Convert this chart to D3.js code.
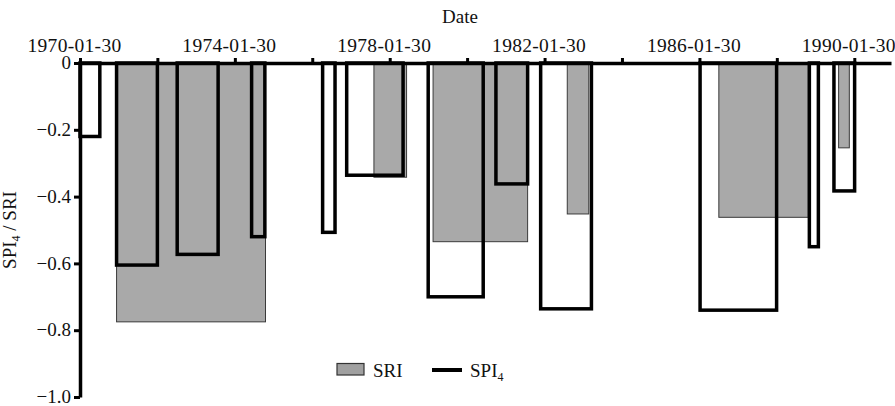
<!DOCTYPE html>
<html>
<head>
<meta charset="utf-8">
<title>SPI4 / SRI drought events</title>
<script src="https://d3js.org/d3.v7.min.js"></script>
<style>
  body { margin: 0; background: #fff; }
  text { font-family: "Liberation Serif", "Times New Roman", serif; fill: #111; }
</style>
</head>
<body>
<div id="chart"></div>
<script>

// SRI events (grey bars)
var sriStart = ["1971-01-10", "1977-09-03", "1979-03-15", "1982-09-01", "1986-08-01", "1989-09-04"];
var sriEnd   = ["1974-11-15", "1978-07-08", "1981-08-23", "1983-03-23", "1988-11-22", "1989-12-14"];
var sriValue = [-0.775, -0.342, -0.535, -0.452, -0.462, -0.254];

// SPI4 events (black outlined bars)
var spiStart = ["1970-01-30", "1971-01-10", "1972-08-04", "1974-07-07", "1976-05-07", "1976-12-20",
                "1979-01-28", "1980-10-28", "1981-12-24", "1986-02-05", "1988-12-02", "1989-07-22"];
var spiEnd   = ["1970-08-05", "1972-01-30", "1973-08-25", "1974-11-09", "1976-09-01", "1978-06-05",
                "1980-06-30", "1981-08-23", "1983-04-17", "1988-01-28", "1989-02-25", "1990-02-02"];
var spiValue = [-0.22, -0.605, -0.573, -0.52, -0.507, -0.336, -0.70, -0.362, -0.736, -0.74, -0.55, -0.383];

// axis ticks
var xTicks  = ["1970-01-30", "1972-01-30", "1974-01-30", "1976-01-30", "1978-01-30", "1980-01-30",
               "1982-01-30", "1984-01-30", "1986-01-30", "1988-01-30", "1990-01-30"];
var xLabels = ["1970-01-30", "", "1974-01-30", "", "1978-01-30", "", "1982-01-30", "", "1986-01-30", "", "1990-01-30"];
var yTicks  = [0, -0.2, -0.4, -0.6, -0.8, -1.0];
var yLabels = ["0", "\u22120.2", "\u22120.4", "\u22120.6", "\u22120.8", "\u22121.0"];

var W = 895, H = 406;
var parse = d3.timeParse("%Y-%m-%d");

var svg = d3.select("#chart").append("svg")
  .attr("width", W)
  .attr("height", H);

var x0 = d3.scaleTime()
  .domain([parse("1970-01-30"), parse("1990-01-30")])
  .range([80, 854.3]);
// axis line runs a little past the last tick
var x = x0.copy().domain([parse("1970-01-30"), x0.invert(891)]).range([80, 891]);

var y = d3.scaleLinear()
  .domain([-1, 0])
  .range([397, 63]);

var sri = sriStart.map(function(s, i) {
  return { s: parse(s), e: parse(sriEnd[i]), v: sriValue[i] };
});
var spi = spiStart.map(function(s, i) {
  return { s: parse(s), e: parse(spiEnd[i]), v: spiValue[i] };
});

svg.selectAll("rect.sri")
  .data(sri)
  .enter().append("rect")
  .attr("class", "sri")
  .attr("x", function(d) { return x(d.s); })
  .attr("y", y(0))
  .attr("width", function(d) { return x(d.e) - x(d.s); })
  .attr("height", function(d) { return y(d.v) - y(0); })
  .attr("fill", "#a9a9a9")
  .attr("stroke", "#3a3a3a")
  .attr("stroke-width", 1);

svg.selectAll("rect.spi")
  .data(spi)
  .enter().append("rect")
  .attr("class", "spi")
  .attr("x", function(d) { return x(d.s); })
  .attr("y", y(0))
  .attr("width", function(d) { return x(d.e) - x(d.s); })
  .attr("height", function(d) { return y(d.v) - y(0); })
  .attr("fill", "none")
  .attr("stroke", "#000")
  .attr("stroke-width", 3.5);

// top x axis
var xAxis = svg.append("g")
  .attr("transform", "translate(0," + y(0) + ")")
  .call(d3.axisTop(x)
    .tickValues(xTicks.map(parse))
    .tickSize(5)
    .tickSizeOuter(0)
    .tickFormat(function(d, i) { return xLabels[i]; }));
xAxis.attr("font-family", null).attr("font-size", null);
xAxis.select(".domain").attr("stroke", "#000").attr("stroke-width", 3.5);
xAxis.selectAll(".tick line").attr("stroke", "#000").attr("stroke-width", 3);
xAxis.selectAll(".tick text")
  .attr("y", -11)
  .attr("dx", -6)
  .style("font-size", "19.5px")
  .style("letter-spacing", "0.3px")
  .style("font-family", "'Liberation Serif'");
// keep the last label inside the plot like the original
xAxis.selectAll(".tick text").each(function() {
  var b = this.getBBox();
  var t = d3.select(this.parentNode).attr("transform");
  var tx = +/translate\(([-\d.]+)/.exec(t)[1];
  var right = tx + b.x + b.width - 6;
  if (right > 890) d3.select(this).attr("dx", -6 - (right - 890));
});

// left y axis
var yAxis = svg.append("g")
  .attr("transform", "translate(80,0)")
  .call(d3.axisLeft(y)
    .tickValues(yTicks)
    .tickSize(6)
    .tickSizeOuter(0)
    .tickFormat(function(d, i) { return yLabels[i]; }));
yAxis.attr("font-family", null).attr("font-size", null);
yAxis.select(".domain").attr("stroke", "#000").attr("stroke-width", 3.5);
yAxis.selectAll(".tick line").attr("stroke", "#000").attr("stroke-width", 3);
yAxis.selectAll(".tick text")
  .attr("x", -9)
  .attr("dy", "0.3em")
  .style("font-size", "19px")
  .style("font-family", "'Liberation Serif'");

// axis titles
svg.append("text")
  .attr("x", 460)
  .attr("y", 23)
  .attr("text-anchor", "middle")
  .style("font-size", "19px")
  .text("Date");

var yTitle = svg.append("text")
  .attr("transform", "translate(16,230) rotate(-90)")
  .attr("text-anchor", "middle")
  .style("font-size", "19px");
yTitle.append("tspan").text("SPI");
yTitle.append("tspan").attr("dy", 4).style("font-size", "12px").text("4");
yTitle.append("tspan").attr("dy", -4).text(" / SRI");

// legend
var leg = svg.append("g");
leg.append("rect")
  .attr("x", 337).attr("y", 363.5)
  .attr("width", 27).attr("height", 11.5)
  .attr("fill", "#a0a0a0")
  .attr("stroke", "#333")
  .attr("stroke-width", 1.2);
leg.append("text")
  .attr("x", 373).attr("y", 377)
  .style("font-size", "19px")
  .text("SRI");
leg.append("line")
  .attr("x1", 432).attr("x2", 462)
  .attr("y1", 370).attr("y2", 370)
  .attr("stroke", "#000")
  .attr("stroke-width", 4);
var legSpi = leg.append("text")
  .attr("x", 470).attr("y", 377)
  .style("font-size", "19px");
legSpi.append("tspan").text("SPI");
legSpi.append("tspan").attr("dy", 4).style("font-size", "12px").text("4");

</script>
</body>
</html>
